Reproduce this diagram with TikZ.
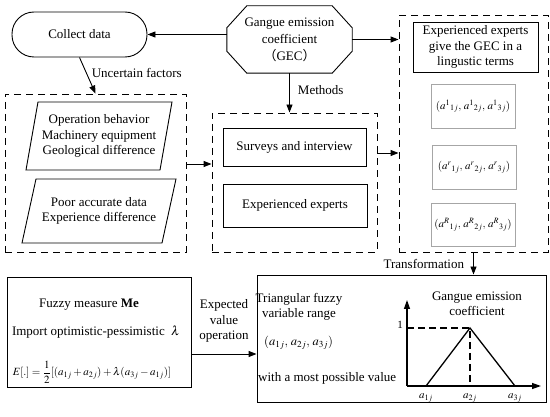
\documentclass[tikz,border=0pt]{standalone}
\usepackage{mathptmx}
\usepackage{fontspec}
\setmainfont{Liberation Serif}
\newfontfamily\cjk{Noto Sans CJK SC}
\usetikzlibrary{arrows.meta}
\begin{document}
\begin{tikzpicture}[x=1pt,y=-1pt,
  every node/.style={font=\fontsize{13}{15.5}\selectfont, inner sep=0pt},
  solidbox/.style={draw, line width=0.9pt},
  dbox/.style={draw, line width=0.9pt, dash pattern=on 7pt off 5pt},
  graybox/.style={draw=black!35, line width=0.7pt, minimum width=84pt, minimum height=44pt},
  arr/.style={-{Triangle[length=8pt,width=6pt]}, line width=0.9pt},
  axis/.style={-{Triangle[length=9pt,width=6pt]}, line width=1.3pt},
  small/.style={font=\fontsize{11}{13}\selectfont}]
\useasboundingbox (0,0) rectangle (550,417);

% top row
\node[solidbox, rounded corners=22pt, minimum width=135pt, minimum height=45pt] (collect) at (79.5,34.5) {Collect data};
\node[minimum width=125pt, minimum height=67pt, align=center, font=\fontsize{13}{17}\selectfont] (gec) at (289.5,39.5) {Gangue emission\\coefficient\\{\cjk （}GEC{\cjk ）}};
\draw[line width=0.9pt] ([xshift=20pt]gec.north west) -- ([xshift=-20pt]gec.north east) -- ([yshift=-22pt]gec.north east) -- ([yshift=22pt]gec.south east) -- ([xshift=-20pt]gec.south east) -- ([xshift=20pt]gec.south west) -- ([yshift=22pt]gec.south west) -- ([yshift=-22pt]gec.north west) -- cycle;

% dashed groups
\node[dbox, minimum width=181pt, minimum height=158pt] (lbox) at (95.5,173) {};
\node[dbox, minimum width=165pt, minimum height=139pt] (mbox) at (294.5,182.5) {};
\node[dbox, minimum width=149pt, minimum height=237pt] (rbox) at (473.5,133.5) {};

% left group
\draw[line width=0.9pt] (38,102) -- (172,102) -- (160,170) -- (26,170) -- cycle;
\node[align=center] (p1) at (99,136) {Operation behavior\\Machinery equipment\\Geological difference};
\draw[line width=0.9pt] (36,179) -- (176,179) -- (162,243) -- (22,243) -- cycle;
\node[align=center] (p2) at (99,211) {Poor accurate data\\Experience difference};

% middle group
\node[solidbox, minimum width=143pt, minimum height=38pt] (surv) at (294.5,147) {Surveys and interview};
\node[solidbox, minimum width=144pt, minimum height=43pt] (exp) at (295,205.5) {Experienced experts};

% right group
\node[solidbox, minimum width=125pt, minimum height=50pt, align=center] (ling) at (475.5,47) {Experienced experts\\give the GEC in a\\lingustic terms};
\node[graybox, small] (g1) at (473,106) {$({a^{1}}_{1j},\, {a^{1}}_{2j},\, {a^{1}}_{3j})$};
\node[graybox, small] (g2) at (474,167) {$({a^{r}}_{1j},\, {a^{r}}_{2j},\, {a^{r}}_{3j})$};
\node[graybox, small, minimum height=43pt] (g3) at (473,224.5) {$({a^{R}}_{1j},\, {a^{R}}_{2j},\, {a^{R}}_{3j})$};

% bottom boxes
\node[solidbox, minimum width=184pt, minimum height=110pt] (blbox) at (99,332) {};
\node (fm) at (89,305) {Fuzzy measure \textbf{Me}};
\node (imp) at (96,332) {Import optimistic-pessimistic \ $\lambda$};
\node[small] (ef) at (92,372) {$\displaystyle E[.]=\frac{1}{2}[(a_{1j}+a_{2j})+\lambda(a_{3j}-a_{1j})]$};

\node[solidbox, minimum width=289pt, minimum height=127pt] (brbox) at (401.5,338.5) {};
\node[align=center] (tfv) at (299,307) {Triangular fuzzy\\variable range};
\node[anchor=west, font=\fontsize{12.5}{14}\selectfont] (tri) at (264,343) {$(a_{1j},\, a_{2j},\, a_{3j})$};
\node[anchor=west] (mpv) at (258,378) {with a most possible value};

% graph
\coordinate (O) at (407,386);
\coordinate (Y) at (407,300);
\coordinate (X) at (541,386);
\coordinate (A1) at (426,386);
\coordinate (A2) at (470,328);
\coordinate (A3) at (515,386);
\draw[axis] (O) -- (Y);
\draw[axis] (O) -- (X);
\draw[line width=1.3pt] (A1) -- (A2) -- (A3);
\draw[line width=1.3pt, dash pattern=on 7pt off 4pt] (O |- A2) -- (A2) -- (A2 |- O);
\node[small] (one) at (400,325) {1};
\node[small] (l1) at (426,398) {$a_{1j}$};
\node[small] (l2) at (470,398) {$a_{2j}$};
\node[small] (l3) at (515,398) {$a_{3j}$};
\node[align=center, font=\fontsize{13}{15}\selectfont] (gtitle) at (477,304) {Gangue emission\\coefficient};

% connectors
\draw[arr] (gec.west |- collect.east) -- (collect.east);
\draw[arr] (gec.east) -- (gec.east -| rbox.west);
\draw[arr] (collect.south) -- (lbox.north) node[pos=0.43, right=5pt] {Uncertain factors};
\draw[arr] (gec.south) -- (gec.south |- mbox.north) node[pos=0.43, right=8pt] {Methods};
\draw[arr] ([yshift=9pt]lbox.east) -- ([yshift=9pt]lbox.east -| mbox.west);
\draw[arr] ([yshift=29.5pt]mbox.east) -- ([yshift=29.5pt]mbox.east -| rbox.west);
\draw[arr] (rbox.south) -- (rbox.south |- brbox.north) node[midway, left=9pt] {Transformation};
\draw[arr] ([yshift=-22pt]blbox.east) -- ([yshift=-22pt]blbox.east -| brbox.west) node[midway, above=11pt, align=center] {Expected\\value\\operation};
\end{tikzpicture}
\end{document}
